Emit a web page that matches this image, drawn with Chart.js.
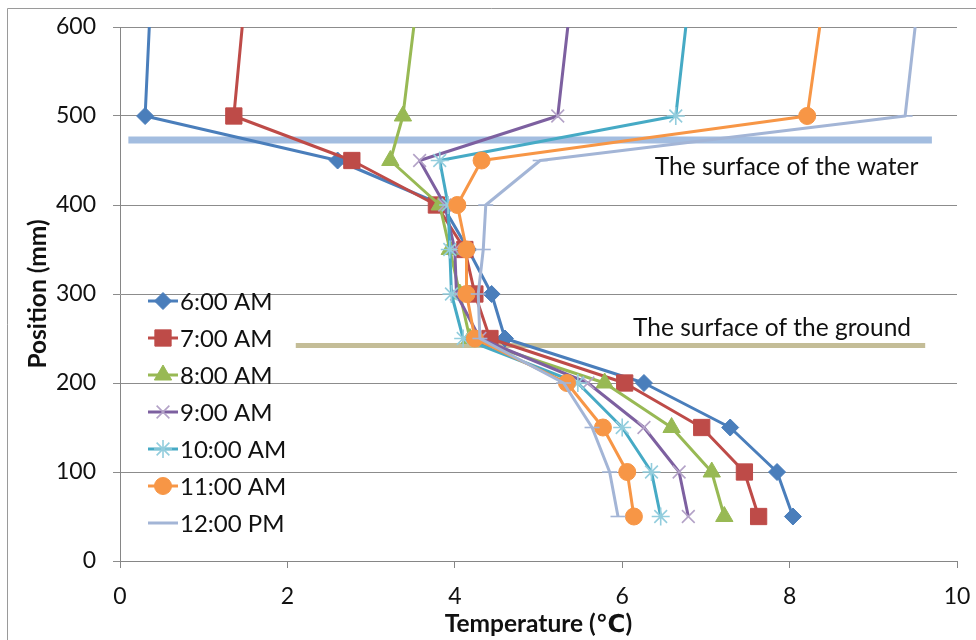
<!DOCTYPE html>
<html><head><meta charset="utf-8">
<script src="https://cdn.jsdelivr.net/npm/chart.js@4"></script>
<style>html,body{margin:0;padding:0;background:#fff}#wrap{width:976px;height:640px;position:relative}</style>
</head><body><div id="wrap"><canvas id="c" width="976" height="640"></canvas></div>
<script>
// ---- data ----
const positions = [600, 500, 450, 400, 350, 300, 250, 200, 150, 100, 50];
const seriesNames = ['6:00 AM', '7:00 AM', '8:00 AM', '9:00 AM', '10:00 AM', '11:00 AM', '12:00 PM'];
const temp0600 = [0.35, 0.30, 2.60, 3.85, 4.16, 4.44, 4.60, 6.26, 7.29, 7.85, 8.04];
const temp0700 = [1.46, 1.36, 2.77, 3.78, 4.12, 4.24, 4.42, 6.03, 6.95, 7.46, 7.63];
const temp0800 = [3.51, 3.38, 3.23, 3.82, 3.94, 4.06, 4.18, 5.79, 6.59, 7.07, 7.22];
const temp0900 = [5.35, 5.23, 3.58, 3.88, 4.00, 4.02, 4.30, 5.59, 6.26, 6.68, 6.79];
const temp1000 = [6.76, 6.64, 3.82, 3.92, 3.94, 3.96, 4.10, 5.47, 6.00, 6.35, 6.46];
const temp1100 = [8.36, 8.21, 4.32, 4.03, 4.14, 4.14, 4.24, 5.34, 5.77, 6.06, 6.14];
const temp1200 = [9.50, 9.38, 5.02, 4.37, 4.34, 4.28, 4.30, 5.30, 5.64, 5.85, 5.95];
const seriesTemps = [temp0600, temp0700, temp0800, temp0900, temp1000, temp1100, temp1200];
const xTickValues = [0, 2, 4, 6, 8, 10];
const yTickValues = [0, 100, 200, 300, 400, 500, 600];
const waterLevel = 473;            // mm
const waterExtent = [0.1, 9.7];    // °C
const groundLevel = 242;           // mm
const groundExtent = [2.1, 9.62];  // °C
const waterLabel = 'The surface of the water';
const waterLabelAt = [6.39, 443];
const groundLabel = 'The surface of the ground';
const groundLabelAt = [6.13, 262];

// ---- styles ----
const FONT = 'Lato, "Open Sans", "DejaVu Sans", sans-serif';
const lineColors = ['#4A7EBB', '#BE4B48', '#98B954', '#7D60A0', '#46AAC5', '#F79646', '#A3B5D6'];
const markerColors = ['#4A7EBB', '#BE4B48', '#98B954', '#B3A2C7', '#93CDDD', '#F79646', '#A3B5D6'];
const markerStyles = ['rectRot', 'rect', 'triangle', 'crossRot', 'star', 'circle', 'line'];
const markerRadii = [8.5, 11.5, 10, 9, 9, 8.5, 7.5];

const datasets = seriesNames.map((name, i) => ({
  label: name,
  data: positions.map((p, j) => ({ x: seriesTemps[i][j], y: p })),
  borderColor: lineColors[i],
  backgroundColor: markerColors[i],
  pointBorderColor: markerColors[i],
  pointBackgroundColor: markerColors[i],
  borderWidth: 3,
  pointStyle: markerStyles[i],
  pointBorderWidth: (markerStyles[i] === 'crossRot' || markerStyles[i] === 'star' || markerStyles[i] === 'line') ? 1.6 : 1,
  pointRadius: ctx => ctx.dataIndex === 0 ? 0 : markerRadii[i],
  pointHoverRadius: ctx => ctx.dataIndex === 0 ? 0 : markerRadii[i],
  tension: 0,
  fill: false,
  order: 6 - i
}));
datasets.push({
  label: 'water', data: waterExtent.map(x => ({ x, y: waterLevel })),
  borderColor: '#A3BDE0', borderWidth: 7, pointRadius: 0, fill: false, order: 20, borderCapStyle: 'butt'
});
datasets.push({
  label: 'ground', data: groundExtent.map(x => ({ x, y: groundLevel })),
  borderColor: '#C4BD97', borderWidth: 5, pointRadius: 0, fill: false, order: 21, borderCapStyle: 'butt'
});

const framePlugin = {
  id: 'frame',
  beforeDraw(chart) {
    const ctx = chart.ctx;
    ctx.save();
    ctx.fillStyle = '#fff';
    ctx.fillRect(0, 0, chart.width, chart.height);
    ctx.strokeStyle = '#9a9a9a';
    ctx.lineWidth = 1;
    ctx.beginPath();
    ctx.moveTo(7.5, 640); ctx.lineTo(7.5, 8.5); ctx.lineTo(976, 8.5);
    ctx.stroke();
    ctx.restore();
  }
};

const notesPlugin = {
  id: 'notes',
  afterDatasetsDraw(chart) {
    const ctx = chart.ctx, xs = chart.scales.x, ys = chart.scales.y;
    ctx.save();
    ctx.font = '24.5px ' + FONT;
    ctx.fillStyle = '#111';
    ctx.textBaseline = 'middle';
    ctx.textAlign = 'left';
    ctx.fillText(waterLabel, xs.getPixelForValue(waterLabelAt[0]), ys.getPixelForValue(waterLabelAt[1]));
    ctx.fillText(groundLabel, xs.getPixelForValue(groundLabelAt[0]), ys.getPixelForValue(groundLabelAt[1]));
    ctx.restore();
  }
};

const legendPlugin = {
  id: 'innerLegend',
  afterDraw(chart) {
    const ctx = chart.ctx;
    ctx.save();
    for (let i = 0; i < seriesNames.length; i++) {
      const ds = chart.data.datasets[i];
      const y = 301 + i * 37;
      ctx.strokeStyle = ds.borderColor;
      ctx.lineWidth = 3;
      ctx.beginPath(); ctx.moveTo(148, y); ctx.lineTo(178, y); ctx.stroke();
      ctx.fillStyle = markerColors[i];
      ctx.strokeStyle = markerColors[i];
      ctx.lineWidth = ds.pointBorderWidth;
      Chart.helpers.drawPoint(ctx, { pointStyle: markerStyles[i], radius: markerRadii[i], rotation: 0, borderWidth: ds.pointBorderWidth }, 163, y);
      ctx.fillStyle = '#111';
      ctx.font = '24px ' + FONT;
      ctx.textBaseline = 'middle';
      ctx.textAlign = 'left';
      ctx.fillText(seriesNames[i], 180, y + 1);
    }
    ctx.restore();
  }
};

new Chart(document.getElementById('c'), {
  type: 'line',
  data: { datasets },
  plugins: [framePlugin, notesPlugin, legendPlugin],
  options: {
    responsive: false,
    animation: false,
    devicePixelRatio: 1,
    layout: { padding: { top: 27, right: 19, left: 0, bottom: 0 } },
    plugins: { legend: { display: false }, tooltip: { enabled: false } },
    elements: { line: { borderJoinStyle: 'round' } },
    scales: {
      x: {
        type: 'linear', min: 0, max: 10,
        afterBuildTicks: s => { s.ticks = xTickValues.map(v => ({ value: v })); },
        afterFit: s => { s.height = 79; s.paddingLeft = 0; s.paddingRight = 0; },
        grid: { drawOnChartArea: false, drawTicks: true, tickLength: 7, color: '#868686' },
        border: { display: true, color: '#868686', width: 1 },
        ticks: { font: { family: FONT, size: 23 }, color: '#111', padding: 15, maxRotation: 0 },
        title: { display: true, text: 'Temperature (℃)', font: { family: FONT, size: 24.5, weight: 'bold' }, color: '#111', padding: { top: 0, bottom: 1 } }
      },
      y: {
        type: 'linear', min: 0, max: 600,
        afterBuildTicks: s => { s.ticks = yTickValues.map(v => ({ value: v })); },
        afterFit: s => { s.width = 120; s.paddingTop = 0; s.paddingBottom = 0; },
        grid: { drawOnChartArea: true, drawTicks: true, tickLength: 7, color: '#8c8c8c' },
        border: { display: true, color: '#868686', width: 1 },
        ticks: { font: { family: FONT, size: 23 }, color: '#111', padding: 17 },
        title: { display: true, text: 'Position (mm)', font: { family: FONT, size: 24.5, weight: 'bold' }, color: '#111', padding: { top: 23, bottom: 0 } }
      }
    }
  }
});
</script></body></html>
